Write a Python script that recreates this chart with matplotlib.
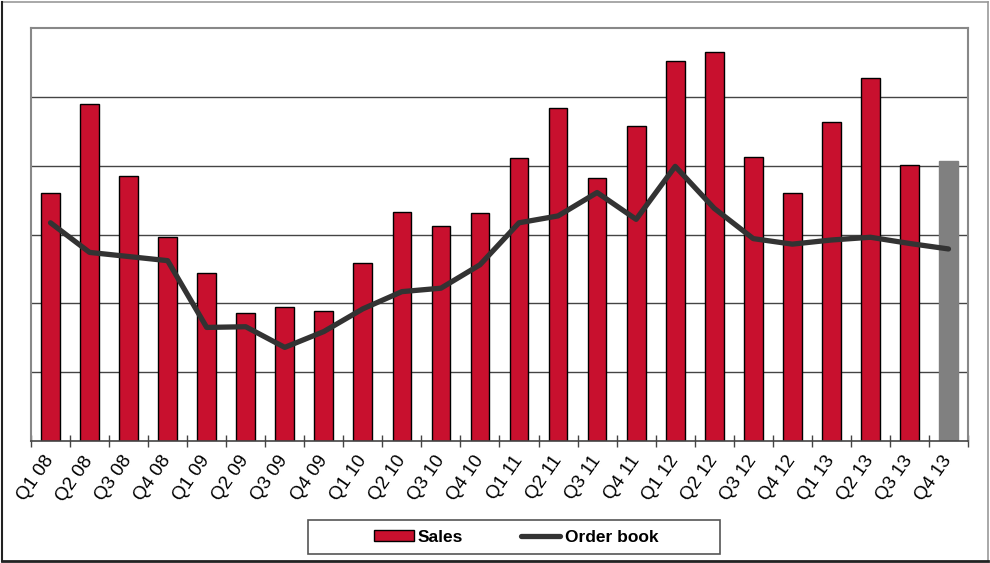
import matplotlib
matplotlib.use('Agg')
import matplotlib.pyplot as plt
import numpy as np
from matplotlib.lines import Line2D
from matplotlib.patches import Patch, Rectangle

quarters = ['Q1 08', 'Q2 08', 'Q3 08', 'Q4 08', 'Q1 09', 'Q2 09', 'Q3 09', 'Q4 09',
            'Q1 10', 'Q2 10', 'Q3 10', 'Q4 10', 'Q1 11', 'Q2 11', 'Q3 11', 'Q4 11',
            'Q1 12', 'Q2 12', 'Q3 12', 'Q4 12', 'Q1 13', 'Q2 13', 'Q3 13', 'Q4 13']
sales = [3.60, 4.90, 3.85, 2.96, 2.44, 1.86, 1.95, 1.89,
         2.59, 3.33, 3.12, 3.31, 4.11, 4.84, 3.82, 4.58,
         5.52, 5.65, 4.13, 3.61, 4.64, 5.27, 4.01, 4.07]
order_book = [3.17, 2.74, 2.68, 2.62, 1.65, 1.66, 1.36, 1.59,
              1.92, 2.17, 2.22, 2.56, 3.17, 3.27, 3.61, 3.22,
              3.99, 3.38, 2.94, 2.86, 2.92, 2.96, 2.87, 2.79]

plt.rcParams['font.family'] = ['Liberation Sans', 'DejaVu Sans']

fig = plt.figure(figsize=(9.9, 5.63), dpi=100)
ax = fig.add_axes([31/990, 1 - 441/563, 937/990, 413/563])

x = np.arange(len(quarters))
colors = ['#C8102E'] * (len(quarters) - 1) + ['#808080']
edges = ['black'] * (len(quarters) - 1) + ['#808080']
ax.bar(x, sales, width=0.48, color=colors, edgecolor=edges, linewidth=1, zorder=2)
ax.plot(x, order_book, color='#333333', linewidth=3.8, solid_joinstyle='round',
        solid_capstyle='round', zorder=3)

ax.set_xlim(-0.5, len(quarters) - 0.5)
ax.set_ylim(0, 6)
ax.set_yticks(np.arange(1, 6))
ax.set_yticklabels([])
ax.tick_params(axis='y', length=0)
ax.grid(axis='y', color='#444444', linewidth=1, zorder=0)

ax.set_xticks(x)
ax.set_xticklabels(quarters, rotation=55, ha='right', va='center',
                   rotation_mode='anchor', fontsize=13.5)
ax.tick_params(axis='x', which='major', length=0, pad=12)
ax.set_xticks(np.arange(-0.5, len(quarters)), minor=True)
ax.tick_params(axis='x', which='minor', direction='inout', length=8,
               width=1, color='#444444')

for s in ['left', 'top', 'right']:
    ax.spines[s].set_color('#888888')
    ax.spines[s].set_linewidth(1.5)
ax.spines['bottom'].set_color('#444444')
ax.spines['bottom'].set_linewidth(1.2)

# legend with its own frame
fig.add_artist(Rectangle((308/990, 1 - 554/563), 412/990, 34/563,
                         transform=fig.transFigure, fill=False,
                         edgecolor='#555555', linewidth=1.2))
handles = [Patch(facecolor='#C8102E', edgecolor='black', linewidth=1),
           Line2D([0], [0], color='#333333', linewidth=3.8, solid_capstyle='round')]
lgd = fig.legend(handles, ['Sales', 'Order book'], loc='center', ncol=2,
                 bbox_to_anchor=(516/990, 1 - 537/563), frameon=False,
                 prop={'weight': 'bold', 'size': 12.5}, handlelength=2.3,
                 handleheight=0.6, handletextpad=0.25, columnspacing=3.3)

# outer chart frame
fig.add_artist(Line2D([2/990, 988/990], [1 - 2/563, 1 - 2/563], transform=fig.transFigure,
                      color='#999999', linewidth=1.2))
fig.add_artist(Line2D([988/990, 988/990], [1 - 2/563, 1 - 561/563], transform=fig.transFigure,
                      color='#999999', linewidth=1.2))
fig.add_artist(Line2D([2/990, 2/990], [1 - 2/563, 1 - 561/563], transform=fig.transFigure,
                      color='#222222', linewidth=1.5))
fig.add_artist(Line2D([2/990, 988/990], [1 - 561/563, 1 - 561/563], transform=fig.transFigure,
                      color='#222222', linewidth=2))

fig.savefig('out.png', dpi=100)
